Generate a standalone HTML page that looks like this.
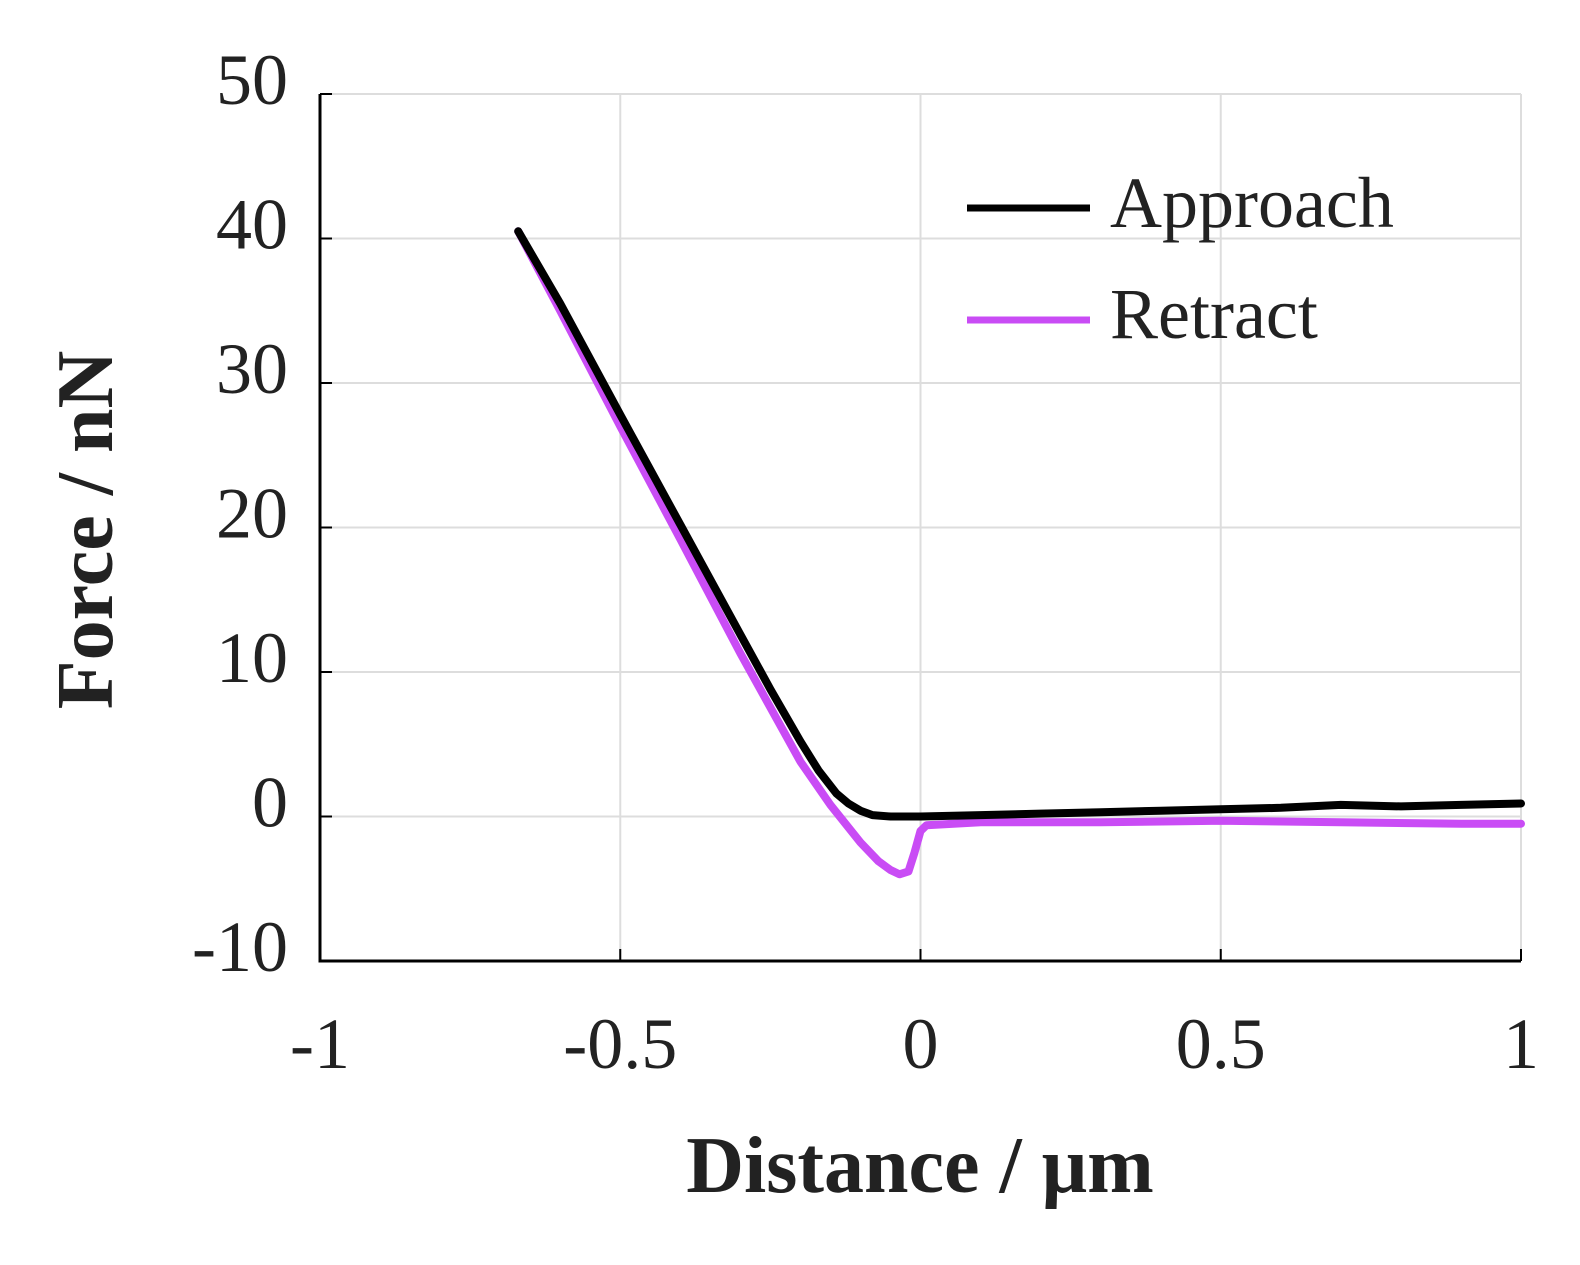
<!DOCTYPE html>
<html><head><meta charset="utf-8"><style>
body{margin:0;background:#fff}
svg text{font-family:"Liberation Serif",serif;fill:#222}
</style></head><body>
<svg id="chart" width="1580" height="1260">
<g id="grid"></g>
<g id="axes"></g>
<g id="series"></g>
<g>
<line x1="967" y1="208" x2="1090" y2="208" stroke="#000" stroke-width="7"/>
<text x="1110" y="227" font-size="72">Approach</text>
<line x1="967" y1="320" x2="1090" y2="320" stroke="#c94cf5" stroke-width="7"/>
<text x="1110" y="338" font-size="72">Retract</text>
</g>
<text x="920" y="1192" font-size="80" font-weight="bold" text-anchor="middle">Distance / μm</text>
<text transform="translate(112,530) rotate(-90)" font-size="80" font-weight="bold" text-anchor="middle">Force / nN</text>
</svg>
<script>
const xTicks=[-1,-0.5,0,0.5,1];
const xTickLabels=["-1","-0.5","0","0.5","1"];
const yTicks=[-10,0,10,20,30,40,50];
const yTickLabels=["-10","0","10","20","30","40","50"];
const approachX=[-0.67,-0.6,-0.5,-0.4,-0.3,-0.25,-0.2,-0.17,-0.14,-0.12,-0.1,-0.08,-0.05,0,0.1,0.2,0.3,0.4,0.5,0.6,0.7,0.8,0.9,1];
const approachY=[40.5,35.5,27.8,20.2,12.6,8.8,5.2,3.2,1.6,0.9,0.4,0.1,0,0,0.1,0.2,0.3,0.4,0.5,0.6,0.8,0.7,0.8,0.9];
const retractX=[-0.67,-0.6,-0.5,-0.4,-0.3,-0.2,-0.15,-0.1,-0.07,-0.05,-0.035,-0.02,-0.01,0,0.01,0.1,0.3,0.5,0.7,0.9,1];
const retractY=[40.5,35.0,27.0,19.2,11.3,3.8,0.8,-1.8,-3.1,-3.7,-4.0,-3.8,-2.5,-1.0,-0.6,-0.4,-0.4,-0.3,-0.4,-0.5,-0.5];
const X0=320,X1=1521,Y0=961,Y1=94;
const sx=v=>X0+(v+1)/2*(X1-X0);
const sy=v=>Y0-(v+10)/60*(Y0-Y1);
const NS="http://www.w3.org/2000/svg";
function mk(tag,attrs,parent,text){const e=document.createElementNS(NS,tag);for(const k in attrs)e.setAttribute(k,attrs[k]);if(text!==undefined)e.textContent=text;parent.appendChild(e);return e;}
const grid=document.getElementById('grid'),axes=document.getElementById('axes'),series=document.getElementById('series');
xTicks.forEach((t,i)=>{
 const g=mk('line',{x1:sx(t),x2:sx(t),y1:Y1,y2:Y0,stroke:'#ddd','stroke-width':2},grid);
 
 
 const tk=mk('line',{x1:sx(t),x2:sx(t),y1:Y0,y2:Y0-12,stroke:'#000','stroke-width':2},axes);
 
 
 const l=mk('text',{x:sx(t),y:1068,'font-size':72,'text-anchor':'middle'},axes,xTickLabels[i]);
 
 
});
yTicks.forEach((t,i)=>{
 const g=mk('line',{x1:X0,x2:X1,y1:sy(t),y2:sy(t),stroke:'#ddd','stroke-width':2},grid);
 
 
 const tk=mk('line',{x1:X0,x2:X0+12,y1:sy(t),y2:sy(t),stroke:'#000','stroke-width':2},axes);
 
 
 const l=mk('text',{x:288,y:sy(t)+10,'font-size':72,'text-anchor':'end'},axes,yTickLabels[i]);
 
 
});
const ax=mk('path',{d:`M${X0},${Y1}V${Y0}H${X1}`,fill:'none',stroke:'#000','stroke-width':3},axes);


function line(xs,ys,color,name){
 const d=xs.map((x,i)=>(i?'L':'M')+sx(x).toFixed(1)+','+sy(ys[i]).toFixed(1)).join('');
 const p=mk('path',{d,fill:'none',stroke:color,'stroke-width':8,'stroke-linejoin':'round','stroke-linecap':'round'},series);
 
 
}
line(retractX,retractY,'#c94cf5','retract-line');
line(approachX,approachY,'#000','approach-line');
</script>
</body></html>
